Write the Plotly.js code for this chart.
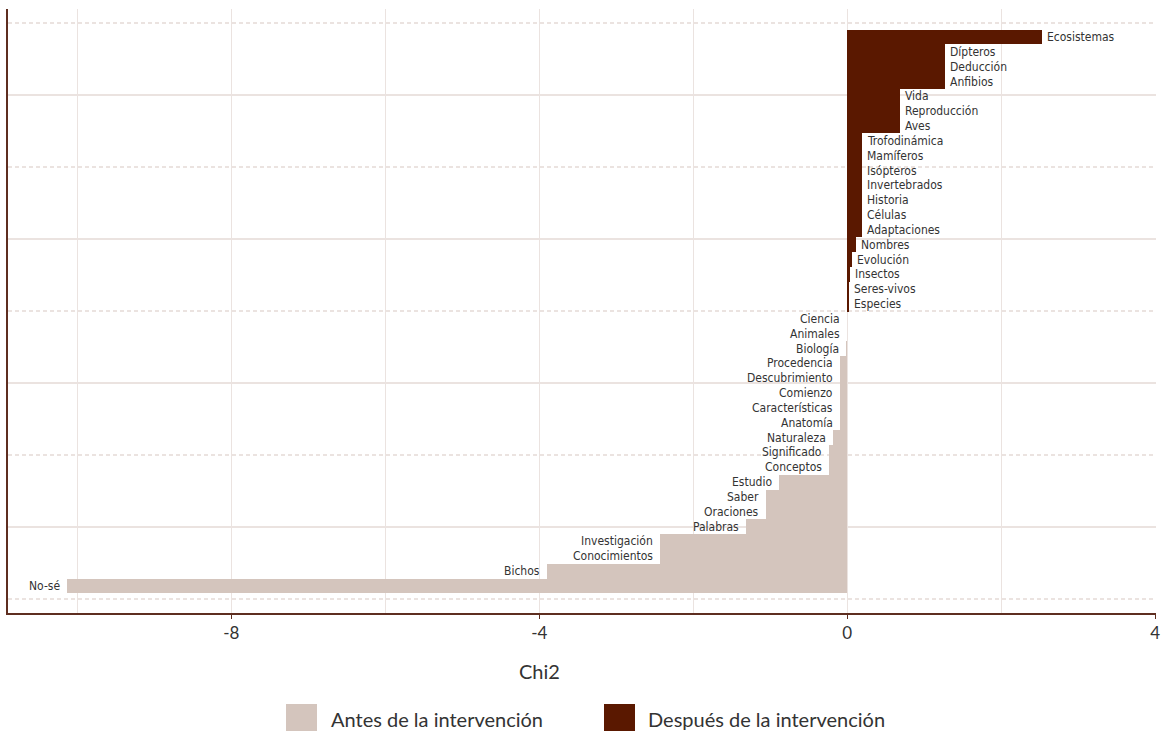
<!DOCTYPE html>
<html>
<head>
<meta charset="utf-8">
<script src="https://cdn.plot.ly/plotly-3.0.1.min.js"></script>
<style>
html,body{margin:0;padding:0;background:#fff;}
#chart{width:1161px;height:731px;}
.annotation-text, text.annotation-text{font-stretch:condensed;}
</style>
</head>
<body>
<div id="chart"></div>
<script>
// ---- Data (top to bottom order) ----
var despuesCategories = ["Ecosistemas","Dípteros","Deducción","Anfibios","Vida","Reproducción","Aves",
  "Trofodinámica","Mamíferos","Isópteros","Invertebrados","Historia","Células","Adaptaciones",
  "Nombres","Evolución","Insectos","Seres-vivos","Especies"];
var despuesValues = [2.53,1.27,1.27,1.27,0.69,0.69,0.69,
  0.195,0.195,0.195,0.195,0.195,0.195,0.195,
  0.117,0.065,0.03,0.028,0.025];

var antesCategories = ["Ciencia","Animales","Biología","Procedencia","Descubrimiento","Comienzo",
  "Características","Anatomía","Naturaleza","Significado","Conceptos","Estudio","Saber",
  "Oraciones","Palabras","Investigación","Conocimientos","Bichos","No-sé"];
var antesValues = [-0.004,-0.008,-0.02,-0.09,-0.09,-0.09,
  -0.09,-0.09,-0.18,-0.24,-0.24,-0.88,-1.05,
  -1.05,-1.31,-2.43,-2.43,-3.9,-10.14];

var xTickLabels = ["-8","-4","0","4"];
var xTickValues = [-8,-4,0,4];
var seriesNames = ["Antes de la intervención","Después de la intervención"];
var axisTitle = "Chi2";

// ---- Styles ----
var colAntes = "#d4c5bd", colDespues = "#5a1800";
var gridCol = "#ebe3e0", axisCol = "#5e2e20", textCol = "#333333";
var labelFont = "'DejaVu Sans',sans-serif";
var mainFont = "Lato,'Open Sans',sans-serif";

var total = despuesCategories.length + antesCategories.length;
function posOf(k){ return total - 1 - k; }

var yD = despuesCategories.map(function(c,i){return posOf(i);});
var yA = antesCategories.map(function(c,i){return posOf(despuesCategories.length + i);});

var traceA = {type:'bar', orientation:'h', name:seriesNames[0], x:antesValues, y:yA,
  width:1, marker:{color:colAntes, line:{width:0}}, text:antesCategories, textposition:'none', hoverinfo:'text+x', showlegend:false};
var traceD = {type:'bar', orientation:'h', name:seriesNames[1], x:despuesValues, y:yD,
  width:1, marker:{color:colDespues, line:{width:0}}, text:despuesCategories, textposition:'none', hoverinfo:'text+x', showlegend:false};

var annotations = [];
despuesCategories.forEach(function(c,i){
  annotations.push({x:despuesValues[i], y:yD[i], xref:'x', yref:'y', text:c, showarrow:false,
    xanchor:'left', yanchor:'middle', xshift:3, font:{family:labelFont, size:12, color:textCol}});
});
antesCategories.forEach(function(c,i){
  annotations.push({x:antesValues[i], y:yA[i], xref:'x', yref:'y', text:c, showarrow:false,
    xanchor:'right', yanchor:'middle', xshift:-5, font:{family:labelFont, size:12, color:textCol}});
});

// pixel helpers for the plot area (l=8, t=9, w=1148, h=604)
var L=8, T=9, W=1148, H=604;
function px(x){ return (x-L)/W; }
function py(y){ return (T+H-y)/H; }

annotations.push({xref:'x', yref:'paper', x:-4, y:py(671), text:axisTitle, showarrow:false,
  xanchor:'center', yanchor:'middle', font:{family:mainFont, size:20, color:textCol}});
annotations.push({xref:'paper', yref:'paper', x:px(329), y:py(719), text:seriesNames[0], showarrow:false,
  xanchor:'left', yanchor:'middle', font:{family:mainFont, size:20, color:textCol}});
annotations.push({xref:'paper', yref:'paper', x:px(646), y:py(719), text:seriesNames[1], showarrow:false,
  xanchor:'left', yanchor:'middle', font:{family:mainFont, size:20, color:textCol}});

var shapes = [
  {type:'rect', xref:'paper', yref:'paper', x0:px(286), x1:px(317), y0:py(704), y1:py(733), fillcolor:colAntes, line:{width:0}},
  {type:'rect', xref:'paper', yref:'paper', x0:px(604), x1:px(635), y0:py(704), y1:py(733), fillcolor:colDespues, line:{width:0}}
];

var layout = {
  width:1161, height:731,
  margin:{l:L, r:1161-L-W, t:T, b:731-T-H, pad:0},
  paper_bgcolor:'#fff', plot_bgcolor:'#fff',
  barmode:'overlay', bargap:0,
  showlegend:false,
  xaxis:{range:[-10.9,4.01], tickmode:'array', tickvals:xTickValues, ticktext:xTickLabels,
    showgrid:true, gridcolor:gridCol, gridwidth:1.2, zeroline:false,
    showline:true, linecolor:axisCol, linewidth:1.5,
    ticks:'outside', ticklen:4, tickcolor:axisCol, tickwidth:1,
    tickfont:{family:mainFont, size:17, color:textCol},
    minor:{tickmode:'linear', tick0:0, dtick:2, showgrid:true, gridcolor:gridCol, gridwidth:1.2, ticks:''},
    fixedrange:true},
  yaxis:{range:[-1.82,38.887], tickmode:'array', tickvals:[3.976,13.68,23.39,33.09], showticklabels:false,
    showgrid:true, gridcolor:gridCol, gridwidth:1.2, zeroline:false,
    showline:true, linecolor:axisCol, linewidth:2, ticks:'',
    minor:{tickmode:'array', tickvals:[-0.876,8.829,18.53,28.24,37.94], showgrid:true, gridcolor:gridCol, gridwidth:1.2, griddash:'4px,3px', ticks:''},
    fixedrange:true},
  annotations:annotations,
  shapes:shapes
};

Plotly.newPlot('chart', [traceA, traceD], layout, {displayModeBar:false, staticPlot:true});
</script>
</body>
</html>
